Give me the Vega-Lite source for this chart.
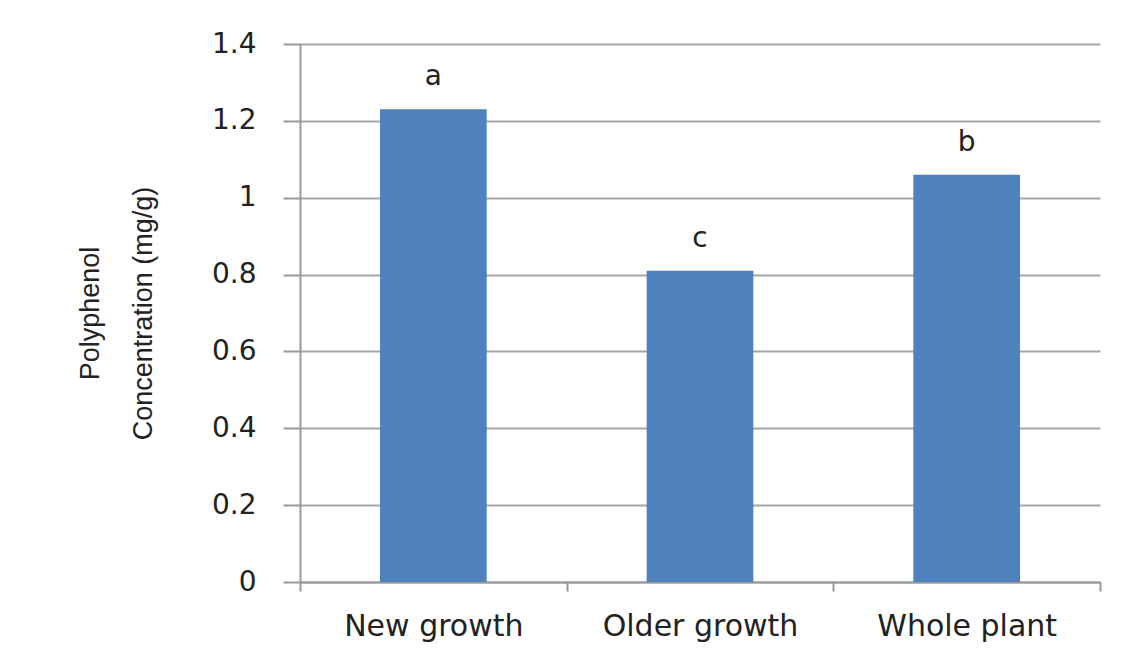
{
  "$schema": "https://vega.github.io/schema/vega-lite/v6.json",
  "autosize": "none",
  "width": 800,
  "height": 538,
  "padding": {"left": 300, "top": 44, "right": 40, "bottom": 90},
  "background": "white",
  "config": {"view": {"stroke": null}},
  "data": {"values": [
    {"part": "New growth", "conc": 1.23, "letter": "a"},
    {"part": "Older growth", "conc": 0.81, "letter": "c"},
    {"part": "Whole plant", "conc": 1.06, "letter": "b"}
  ]},
  "encoding": {
    "x": {"field": "part", "type": "nominal", "sort": null,
      "scale": {"paddingInner": 0, "paddingOuter": 0},
      "axis": {"title": null, "labelAngle": 0, "tickBand": "extent", "tickSize": 9, "labelLimit": 0,
        "tickColor": "#999999", "tickWidth": 2, "domainColor": "#999999", "domainWidth": 2,
        "labelFont": "DejaVu Sans", "labelFontSize": 30, "labelColor": "#222222", "labelPadding": 20}},
    "y": {"field": "conc", "type": "quantitative",
      "scale": {"domain": [0, 1.4]},
      "axis": {"values": [0, 0.2, 0.4, 0.6, 0.8, 1, 1.2, 1.4], "format": "~g",
        "title": ["Polyphenol", "Concentration (mg/g)"],
        "titleFont": "Liberation Sans", "titleFontSize": 27, "titleFontWeight": "normal",
        "titleColor": "#222222", "titleAngle": -90, "titleX": -210, "titleY": 269,
        "titleAlign": "center", "titleBaseline": "middle", "titleLineHeight": 53,
        "tickSize": 17, "tickColor": "#999999", "tickWidth": 2,
        "domainColor": "#999999", "domainWidth": 2,
        "gridColor": "#a6a6a6", "gridWidth": 2,
        "labelFont": "DejaVu Sans", "labelFontSize": 28, "labelColor": "#222222", "labelPadding": 27}}
  },
  "layer": [
    {"mark": {"type": "bar", "color": "#4F81BD", "width": {"band": 0.4}}},
    {"mark": {"type": "text", "baseline": "bottom", "dy": -18, "font": "DejaVu Sans", "fontSize": 28, "color": "#222222"},
      "encoding": {"text": {"field": "letter"}}}
  ]
}
